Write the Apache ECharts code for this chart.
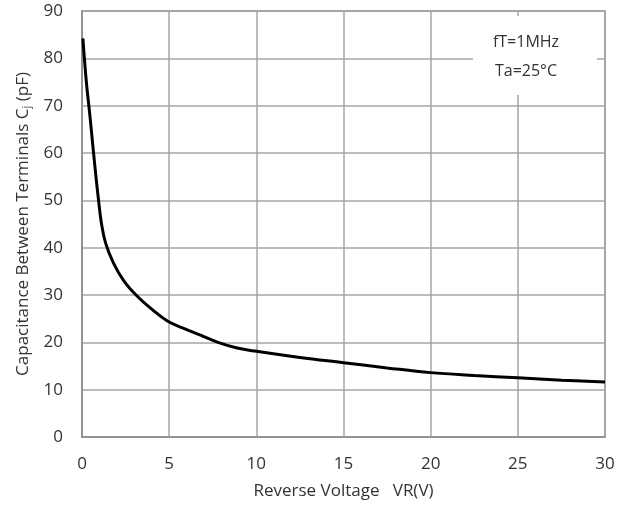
<!DOCTYPE html>
<html><head><meta charset="utf-8">
<script src="https://cdn.jsdelivr.net/npm/echarts@6/dist/echarts.min.js"></script>
<style>html,body{margin:0;padding:0;background:#fff}#c{width:632px;height:506px}</style>
</head><body><div id="c"></div>
<script>
var voltage = [0.05,0.25,0.45,0.65,0.8,0.95,1.1,1.35,1.8,2.4,3.1,4,4.9,5.8,6.8,7.8,8.9,10,12.5,15,17.5,20,22.5,25,27.5,30];
var capacitance = [84.2,75,68,60.5,55,50,45.5,41,36.8,33,30,27,24.5,23,21.5,20,18.8,18.1,16.8,15.7,14.6,13.6,13,12.5,12,11.6];
var xTicks = [0,5,10,15,20,25,30];
var yTicks = [0,10,20,30,40,50,60,70,80,90];
var noteLines = ['fT=1MHz','Ta=25°C'];

var font = '"Open Sans", "Liberation Sans", sans-serif';
var chart = echarts.init(document.getElementById('c'));
chart.setOption({
  animation:false,
  grid:{left:82,right:27,top:11,bottom:69,outerBoundsMode:'none',containLabel:false,show:true,borderColor:'#8c8c8c',borderWidth:1.5},
  xAxis:{type:'value',min:xTicks[0],max:xTicks[xTicks.length-1],interval:5,
    name:'Reverse Voltage   VR(V)',nameLocation:'middle',nameGap:46,
    nameTextStyle:{fontFamily:font,fontSize:17,color:'#333'},
    axisLine:{lineStyle:{color:'#8c8c8c',width:1.5}},axisTick:{show:false},
    axisLabel:{fontFamily:font,fontSize:17,color:'#333',margin:19},
    splitLine:{lineStyle:{color:'#a6a6a6',width:1.5}}},
  yAxis:{type:'value',min:yTicks[0],max:yTicks[yTicks.length-1],interval:10,
    name:'{a|Capacitance Between Terminals C}{s|j}{a| (pF)}',nameLocation:'middle',nameGap:50,
    nameTextStyle:{rich:{a:{fontFamily:font,fontSize:17,color:'#333'},s:{fontFamily:font,fontSize:11,color:'#333',verticalAlign:'bottom',padding:[7,0,0,0]}}},
    axisLine:{show:true,lineStyle:{color:'#8c8c8c',width:1.5}},axisTick:{show:false},
    axisLabel:{fontFamily:font,fontSize:17,color:'#333',margin:19},
    splitLine:{lineStyle:{color:'#a6a6a6',width:1.5}}},
  series:[{type:'line',data:voltage.map(function(v,i){return [v,capacitance[i]];}),
    smooth:0.4,showSymbol:false,lineStyle:{color:'#000',width:3}}],
  graphic:[
    {type:'rect',shape:{x:473,y:16,width:124,height:79},style:{fill:'#fff'},z:10},
    {type:'text',x:526,y:42,style:{text:noteLines[0],font:'16px '+font,fill:'#333',textAlign:'center',textVerticalAlign:'middle'},z:11},
    {type:'text',x:526,y:71,style:{text:noteLines[1],font:'16px '+font,fill:'#333',textAlign:'center',textVerticalAlign:'middle'},z:11}
  ]
});
</script></body></html>
